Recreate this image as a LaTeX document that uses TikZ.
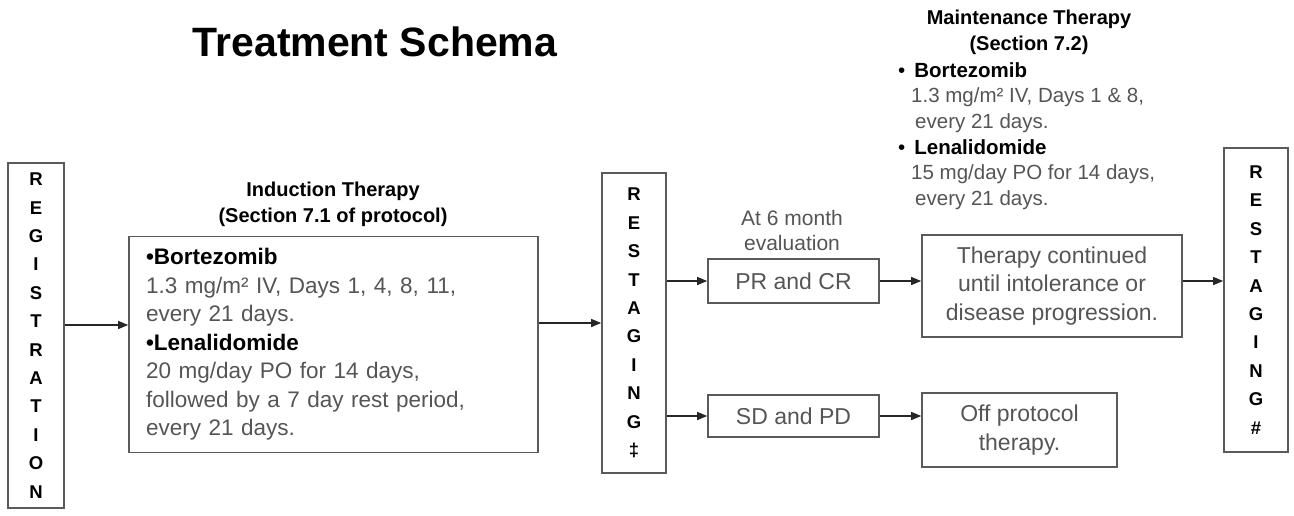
\documentclass[tikz,border=0pt]{standalone}
\usepackage{fontspec}
\setmainfont{Liberation Sans}
\usetikzlibrary{arrows.meta}

\definecolor{txtgray}{HTML}{555555}
\definecolor{boxgray}{HTML}{5A5A5A}

\begin{document}
\begin{tikzpicture}[x=1pt,y=-1pt,
    box/.style={draw=boxgray, line width=1.6pt, inner sep=0pt, align=center,
      text=txtgray, font=\fontsize{23}{28.3}\selectfont},
    letters/.style={box, text=black, font=\fontsize{18.5}{28.4}\selectfont\bfseries},
    head/.style={align=center, inner sep=0pt, font=\fontsize{20}{26}\selectfont\bfseries},
    arr/.style={-{Triangle[length=10pt,width=8pt]}, line width=1.3pt, draw=black!85}]

    \useasboundingbox (0,0) rectangle (1294,515);

    \node[font=\fontsize{41}{46}\selectfont\bfseries] (title) at (375,42) {Treatment Schema};

    % vertical boxes
    \node[letters, minimum width=56, minimum height=345] (reg) at (36,335.5)
        {R\\E\\G\\I\\S\\T\\R\\A\\T\\I\\O\\N};
    \node[letters, minimum width=64, minimum height=300] (rst1) at (634,323)
        {R\\E\\S\\T\\A\\G\\I\\N\\G\\‡};
    \node[letters, minimum width=64, minimum height=304] (rst2) at (1256,300)
        {R\\E\\S\\T\\A\\G\\I\\N\\G\\\#};

    % induction
    \node[head] (indhead) at (333,204) {Induction Therapy\\(Section 7.1 of protocol)};
    \node[box, minimum width=409, minimum height=216, text width=375, align=left,
          font=\fontsize{22.5}{28.5}\selectfont] (ind) at (333.5,344.5)
        {\textcolor{black}{\textbf{•Bortezomib}}\\
         1.3 mg/m² IV, Days 1, 4, 8, 11,\\
         every 21 days.\\
         \textcolor{black}{\textbf{•Lenalidomide}}\\
         20 mg/day PO for 14 days,\\
         followed by a 7 day rest period,\\
         every 21 days.};

    % evaluation
    \node[align=center, inner sep=0pt, text=txtgray, font=\fontsize{21}{25}\selectfont]
        (eval) at (792,230) {At 6 month\\evaluation};
    \node[box, minimum width=171, minimum height=44] (pr) at (793.5,281) {PR and CR};
    \node[box, minimum width=171, minimum height=42] (sd) at (793.5,416) {SD and PD};

    % maintenance
    \node[head] (mainthead) at (1029,32) {Maintenance Therapy\\(Section 7.2)};
    \node[anchor=west, align=left, inner sep=0pt, text=txtgray,
          font=\fontsize{20.5}{25.6}\selectfont] (maint) at (898,136)
        {\textcolor{black}{•\hspace*{9pt}\textbf{Bortezomib}}\\
         \hspace*{13pt}1.3 mg/m² IV, Days 1 \& 8,\\
         \hspace*{17pt}every 21 days.\\
         \textcolor{black}{•\hspace*{9pt}\textbf{Lenalidomide}}\\
         \hspace*{13pt}15 mg/day PO for 14 days,\\
         \hspace*{17pt}every 21 days.};
    \node[box, minimum width=260, minimum height=102] (ther) at (1052,286)
        {Therapy continued\\until intolerance or\\disease progression.};
    \node[box, minimum width=195, minimum height=74] (off) at (1019.5,430)
        {Off protocol\\therapy.};

    % connectors
    \coordinate (yreg) at (0,325);
    \draw[arr] (reg.east |- yreg) -- (ind.west |- yreg);
    \draw[arr] (ind.east |- rst1.west) -- (rst1.west);
    \draw[arr] (rst1.east |- pr.west) -- (pr.west);
    \draw[arr] (rst1.east |- sd.west) -- (sd.west);
    \draw[arr] (pr.east) -- (pr.east -| ther.west);
    \draw[arr] (sd.east) -- (sd.east -| off.west);
    \draw[arr] (ther.east |- pr.east) -- (rst2.west |- pr.east);
\end{tikzpicture}
\end{document}
